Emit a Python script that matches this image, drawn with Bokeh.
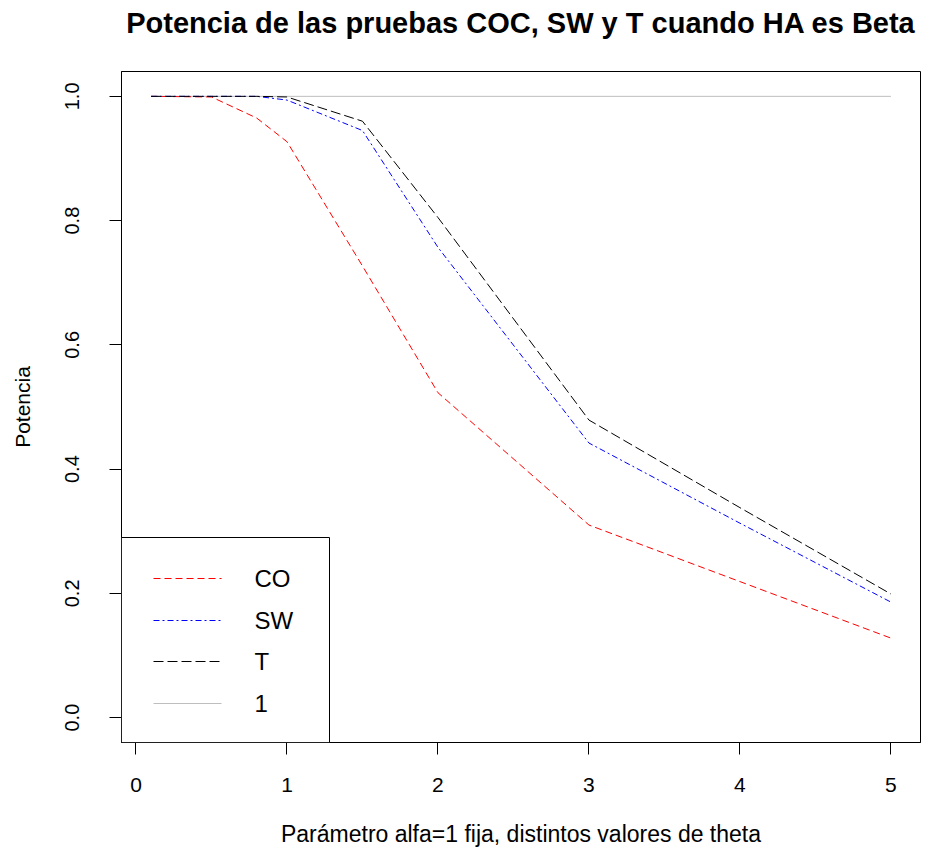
from bokeh.plotting import figure
from bokeh.models import Range1d, FixedTicker, Label, Arrow, BoxAnnotation, Title
from bokeh.embed import file_html
from bokeh.resources import INLINE

# ---- data ----
theta = [0.1, 0.5, 0.8, 1.0, 1.5, 2.0, 3.0, 4.0, 5.0]
power_co = [1.000, 0.999, 0.965, 0.927, 0.727, 0.523, 0.310, 0.219, 0.128]
power_sw = [1.000, 1.000, 1.000, 0.994, 0.945, 0.757, 0.442, 0.313, 0.186]
power_t = [1.000, 1.000, 1.000, 0.999, 0.960, 0.805, 0.479, 0.338, 0.199]
ref_x = [0.1, 5.0]
ref_y = [1.0, 1.0]
series_labels = ["CO", "SW", "T", "1"]
x_ticks = [0, 1, 2, 3, 4, 5]
y_ticks = [0.0, 0.2, 0.4, 0.6, 0.8, 1.0]
y_tick_labels = ["0.0", "0.2", "0.4", "0.6", "0.8", "1.0"]

title_text = "Potencia de las pruebas COC, SW y T cuando HA es Beta"
x_label = "Parámetro alfa=1 fija, distintos valores de theta"
y_label = "Potencia"

# ---- styles ----
FONT = "Liberation Sans"
series_colors = ["#FF0000", "#0000FF", "black", "#BEBEBE"]
series_dashes = ["7 4", "6 3 2 3", "10 4", "solid"]

p = figure(width=921, height=849, output_backend="svg", toolbar_location=None,
           x_range=Range1d(-0.096, 5.196), y_range=Range1d(-0.04, 1.04),
           min_border_left=121, min_border_right=1, min_border_top=71,
           min_border_bottom=107, title=title_text)

p.title.text_font = FONT
p.title.text_font_size = "29px"
p.title.text_font_style = "bold"
p.title.text_color = "black"
p.title.align = "center"
p.title.vertical_align = "top"
p.title.standoff = 10

# empty spacer between the title and the plot frame
p.add_layout(Title(text=" ", text_font_size="1px", standoff=23), "above")

p.grid.visible = False
p.outline_line_color = "black"
p.outline_line_width = 1
p.outline_line_alpha = 1.0
p.background_fill_color = "white"
p.border_fill_color = "white"

for ax in (p.xaxis[0], p.yaxis[0]):
    ax.axis_line_color = "black"
    ax.major_tick_line_color = "black"
    ax.major_tick_out = 12
    ax.major_tick_in = 0
    ax.minor_tick_line_color = None
    ax.major_label_text_font = FONT
    ax.major_label_text_color = "black"
    ax.axis_label_text_font = FONT
    ax.axis_label_text_font_style = "normal"
    ax.axis_label_text_color = "black"

p.xaxis.ticker = FixedTicker(ticks=x_ticks)
p.yaxis.ticker = FixedTicker(ticks=y_ticks)
p.yaxis.major_label_overrides = {t: s for t, s in zip(y_ticks, y_tick_labels)}
p.yaxis.major_label_orientation = "vertical"
p.xaxis.axis_label = x_label
p.yaxis.axis_label = y_label
p.xaxis.major_label_text_font_size = "21px"
p.yaxis.major_label_text_font_size = "20px"
p.xaxis.axis_label_text_font_size = "23px"
p.yaxis.axis_label_text_font_size = "21px"
p.xaxis.major_label_standoff = 23
p.xaxis.axis_label_standoff = 26
p.yaxis.major_label_standoff = 30
p.yaxis.axis_label_standoff = 29

# ---- series ----
r_ref = p.line(ref_x, ref_y, line_color=series_colors[3], line_width=1)
r_co = p.line(theta, power_co, line_color=series_colors[0], line_width=1,
              line_dash=series_dashes[0])
r_sw = p.line(theta, power_sw, line_color=series_colors[1], line_width=1,
              line_dash=series_dashes[1])
r_t = p.line(theta, power_t, line_color=series_colors[2], line_width=1,
             line_dash=series_dashes[2])

# ---- legend box (screen units, relative to the plot frame) ----
LEG_W, LEG_H = 208, 205
LINE_X0, LINE_X1, TEXT_X = 32, 100, 133
ROW_Y = [164, 122, 81, 39]

p.add_layout(BoxAnnotation(left=0, right=LEG_W, bottom=0, top=LEG_H,
                           left_units="screen", right_units="screen",
                           bottom_units="screen", top_units="screen",
                           fill_color="white", fill_alpha=1.0,
                           line_color="black", line_width=1, line_alpha=1.0))
for lab, col, dash, yy in zip(series_labels, series_colors, series_dashes, ROW_Y):
    p.add_layout(Arrow(end=None, x_start=LINE_X0, y_start=yy, x_end=LINE_X1, y_end=yy,
                       start_units="screen", end_units="screen",
                       line_color=col, line_width=1, line_dash=dash))
    p.add_layout(Label(x=TEXT_X, y=yy, x_units="screen", y_units="screen",
                       text=lab, text_align="left", text_baseline="middle",
                       text_font=FONT, text_font_size="24px",
                       text_color="black"))

open("out.html", "w").write(file_html(p, INLINE))
